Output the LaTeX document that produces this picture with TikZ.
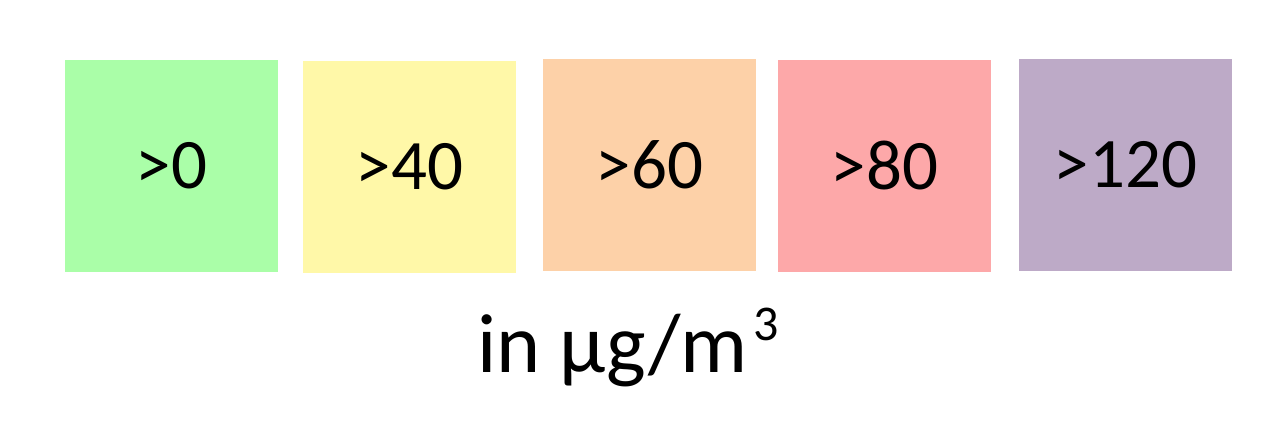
\documentclass[tikz,border=0pt]{standalone}
\usepackage{fontspec}
\setmainfont{Carlito}
\definecolor{cgreen}{HTML}{AAFEA8}
\definecolor{cyellow}{HTML}{FFF8A8}
\definecolor{corange}{HTML}{FDD1A8}
\definecolor{cred}{HTML}{FDA8A9}
\definecolor{cpurple}{HTML}{BDAAC7}
\begin{document}
\begin{tikzpicture}[x=1pt,y=-1pt,
  box/.style={draw=none,minimum width=213pt,minimum height=212pt,inner sep=0pt,font=\fontsize{71}{80}\selectfont,text=black}]
\useasboundingbox (0,0) rectangle (1280,426);
\node[box,fill=cgreen]  (b1) at (171.5,166) {\raisebox{1pt}{>0}};
\node[box,fill=cyellow] (b2) at (409.5,167) {\raisebox{1pt}{>40}};
\node[box,fill=corange] (b3) at (649.5,165) {\raisebox{1pt}{>60}};
\node[box,fill=cred]    (b4) at (884.5,166) {\raisebox{1pt}{>80}};
\node[box,fill=cpurple] (b5) at (1125.5,165) {\raisebox{1pt}{>120}};
\node[anchor=base,inner sep=0pt,font=\fontsize{84}{90}\selectfont] (unit) at (628,372) {in µg/m\kern5pt\raisebox{32pt}{\fontsize{50}{54}\selectfont 3}};
\end{tikzpicture}
\end{document}
